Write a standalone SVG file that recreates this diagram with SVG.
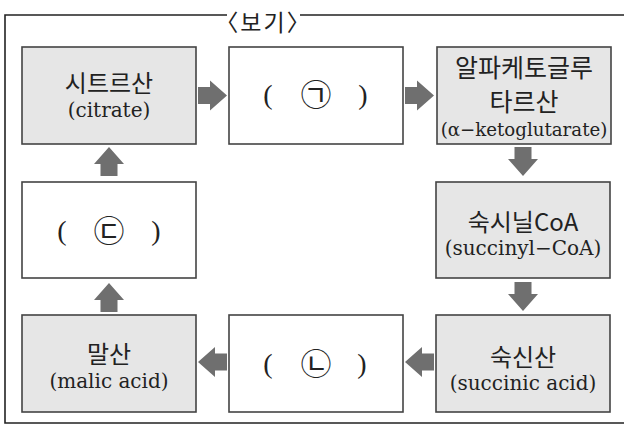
<svg xmlns="http://www.w3.org/2000/svg" xmlns:xlink="http://www.w3.org/1999/xlink" width="624" height="426" viewBox="0 0 624 426">
<defs>
<style>
.frame{fill:none;stroke:#222;stroke-width:1.6}
.box{stroke:#444;stroke-width:1.6}
.g{fill:#e6e6e6}
.w{fill:#ffffff}
.ko{font-family:"Noto Sans CJK KR","Noto Sans",sans-serif;font-size:24px;fill:#222;text-anchor:middle}
.en{font-family:"DejaVu Serif","Liberation Serif",serif;font-size:20px;fill:#222;text-anchor:middle}
.par{font-family:"Liberation Serif",serif;font-size:28px;fill:#222;text-anchor:middle}
.cir{font-family:"Noto Sans CJK KR",sans-serif;font-size:31px;fill:#222;text-anchor:middle}
.arr{fill:#6f6f6f}
</style>
<path id="arr" d="M0,-8.5 H12 V-15 L29,0 L12,15 V8.5 H0 Z"/>
</defs>
<rect width="624" height="426" fill="#ffffff"/>
<g id="frame">
<path class="frame" d="M227,15 H5 V423 H626 M300,15 H626"/>
<text x="263.5" y="31" class="ko" style="font-size:23px;letter-spacing:2px">〈보기〉</text>
</g>
<g id="citrate">
<rect class="box g" x="22" y="47" width="174" height="97"/>
<text class="ko" x="109" y="92">시트르산</text>
<text class="en" x="109" y="117">(citrate)</text>
</g>
<g id="blank-a">
<rect class="box w" x="229" y="47" width="174" height="97"/>
<text class="par" x="268" y="104">(</text>
<text class="cir" x="316" y="106">㉠</text>
<text class="par" x="363" y="104">)</text>
</g>
<g id="ketoglutarate">
<rect class="box g" x="437" y="47" width="174" height="97"/>
<text class="ko" x="524" y="77" style="font-size:25px">알파케토글루</text>
<text class="ko" x="524" y="111" style="font-size:25px">타르산</text>
<text class="en" x="524" y="136" style="font-size:18.2px">(α−ketoglutarate)</text>
</g>
<g id="succinylcoa">
<rect class="box g" x="436" y="182" width="174" height="96"/>
<text class="ko" x="523" y="231">숙시닐CoA</text>
<text class="en" x="523" y="255">(succinyl−CoA)</text>
</g>
<g id="succinic">
<rect class="box g" x="436" y="315" width="174" height="97"/>
<text class="ko" x="523" y="366">숙신산</text>
<text class="en" x="523" y="390">(succinic acid)</text>
</g>
<g id="blank-b">
<rect class="box w" x="229" y="315" width="174" height="97"/>
<text class="par" x="268" y="373">(</text>
<text class="cir" x="316" y="375">㉡</text>
<text class="par" x="362" y="373">)</text>
</g>
<g id="malic">
<rect class="box g" x="22" y="315" width="174" height="97"/>
<text class="ko" x="109" y="363">말산</text>
<text class="en" x="109" y="388">(malic acid)</text>
</g>
<g id="blank-c">
<rect class="box w" x="22" y="182" width="174" height="96"/>
<text class="par" x="62" y="240">(</text>
<text class="cir" x="109" y="242">㉢</text>
<text class="par" x="156" y="240">)</text>
</g>
<g id="connectors" class="arr">
<use xlink:href="#arr" transform="translate(198,95.5)"/>
<use xlink:href="#arr" transform="translate(405,95.5)"/>
<use xlink:href="#arr" transform="translate(523,147) rotate(90)"/>
<use xlink:href="#arr" transform="translate(523,282) rotate(90)"/>
<use xlink:href="#arr" transform="translate(434,362) rotate(180)"/>
<use xlink:href="#arr" transform="translate(227,362) rotate(180)"/>
<use xlink:href="#arr" transform="translate(109,312) rotate(-90)"/>
<use xlink:href="#arr" transform="translate(109,176) rotate(-90)"/>
</g>
</svg>
